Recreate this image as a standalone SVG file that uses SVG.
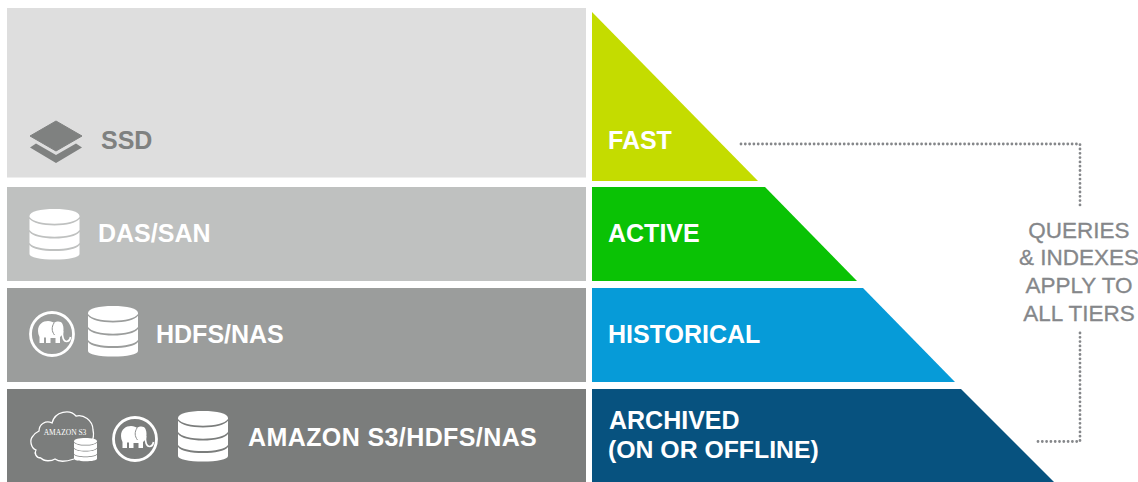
<svg xmlns="http://www.w3.org/2000/svg" width="1138" height="482" viewBox="0 0 1138 482">
<style>
text{font-family:"Liberation Sans",Arial,sans-serif}
.b{font-weight:700;font-size:25px;fill:#fff}
.q{font-size:22.5px;fill:#85878a;stroke:#85878a;stroke-width:.3;text-anchor:middle}
.dot{fill:none;stroke:#85878a;stroke-width:2.800;stroke-linecap:round;stroke-dasharray:0 4.300}
</style>
<defs>
<g id="db" fill="#fff">
<path d="M0 7C0 2.500 11 0 25 0S50 2.500 50 7V8C47 12.500 37 14.700 25 14.700S3 12.500 0 8Z"/>
<path d="M0 9.700C3 14 13 16.400 25 16.400S47 14 50 9.700V21C47 25.500 37 27.700 25 27.700S3 25.500 0 21Z"/>
<path d="M0 23C3 27.300 13 29.500 25 29.500S47 27.300 50 23V34C47 38 37 40 25 40S3 38 0 34Z"/>
<path d="M0 36C3 40 13 42 25 42S47 40 50 36V45C50 48.500 39 50.500 25 50.500S0 48.500 0 45Z"/>
</g>
<g id="ele">
<circle cx="0" cy="0" r="21.500" fill="none" stroke="#fff" stroke-width="2.800"/>
<path d="M-14 -3C-14 -10 -9 -13 -4 -13C-1 -13 1 -12 2 -11C5 -13 9 -13 10.500 -10C12 -7 11.500 -3 11 0L8 3V9H3.500V4H-1.500V9H-6V3.500H-8V9H-12.500V3C-13.500 1 -14 -1 -14 -3Z" fill="#fff"/>
<path d="M10.500 -3C10 3 11.500 7.500 14.500 7.500C17 7.500 18 5.500 18.500 3" fill="none" stroke="#fff" stroke-width="1.700"/>
<path d="M2 -11C-.500 -7 -.500 -3 2.500 1" fill="none" stroke="#8e9090" stroke-width="1"/>
</g>
</defs>
<rect width="1138" height="482" fill="#fff"/>
<g id="tier-ssd">
<rect x="7" y="8" width="579" height="169.500" fill="#dedede"/>
<path d="M56 121L82 136L56 151L30 136Z" fill="#7f8180" stroke="#7f8180" stroke-linejoin="round"/>
<path d="M36 143.500L56 155L76 143.500L82 147.500L56 163L30 147.500Z" fill="#7f8180"/>
<text x="101" y="149" class="b" style="fill:#7f8180">SSD</text>
</g>
<g id="tier-das">
<rect x="7" y="187" width="579" height="94" fill="#bfc1c0"/>
<use href="#db" x="29.500" y="209"/>
<text x="98" y="242" class="b">DAS/SAN</text>
</g>
<g id="tier-hdfs">
<rect x="7" y="288" width="579" height="94" fill="#9b9d9c"/>
<use href="#ele" x="52" y="334"/>
<use href="#db" x="88" y="306"/>
<text x="156" y="343" class="b">HDFS/NAS</text>
</g>
<g id="tier-s3">
<rect x="7" y="389" width="579" height="93" fill="#7b7d7c"/>
<path d="M41 458C36 458 34 453 36 450C31 448 29 440 33 436C35 433 37 432 39 431C39 424 46 420 52 423C55 411 70 409 76 416C83 414 93 420 93 430C94 434 93 440 91 444" fill="none" stroke="#fff" stroke-width="1.300"/>
<path d="M41 458C44 462 52 461 55 459C60 463 68 461 74 459" fill="none" stroke="#fff" stroke-width="1.300"/>
<text x="65" y="435" text-anchor="middle" style="font-family:'Liberation Serif',serif;font-size:7.500px;fill:#fff">AMAZON S3</text>
<use href="#db" transform="translate(74 438) scale(.46)"/>
<use href="#ele" x="135" y="439"/>
<use href="#db" x="178" y="411"/>
<text x="248" y="446" class="b" letter-spacing=".4">AMAZON S3/HDFS/NAS</text>
</g>
<g id="level-fast">
<path d="M592 12L758 181H592Z" fill="#c4dc00"/>
<text x="608" y="149" class="b">FAST</text>
</g>
<g id="level-active">
<path d="M592 187H765L857 281H592Z" fill="#0ac205"/>
<text x="608" y="242" class="b">ACTIVE</text>
</g>
<g id="level-historical">
<path d="M592 288H863L955 382H592Z" fill="#069bd8"/>
<text x="608" y="343" class="b">HISTORICAL</text>
</g>
<g id="level-archived">
<path d="M592 389H961L1054 482H592Z" fill="#07527f"/>
<text x="609" y="429" class="b">ARCHIVED</text>
<text x="608" y="458" class="b" style="font-size:24.800px">(ON OR OFFLINE)</text>
</g>
<g id="connectors">
<path class="dot" d="M741 144H1080V208"/>
<path class="dot" d="M1080 333V441.500H1034"/>
</g>
<g id="note">
<text x="1079" y="238" class="q">QUERIES</text>
<text x="1079" y="265" class="q">&amp; INDEXES</text>
<text x="1079" y="293" class="q">APPLY TO</text>
<text x="1079" y="321" class="q">ALL TIERS</text>
</g>
</svg>
